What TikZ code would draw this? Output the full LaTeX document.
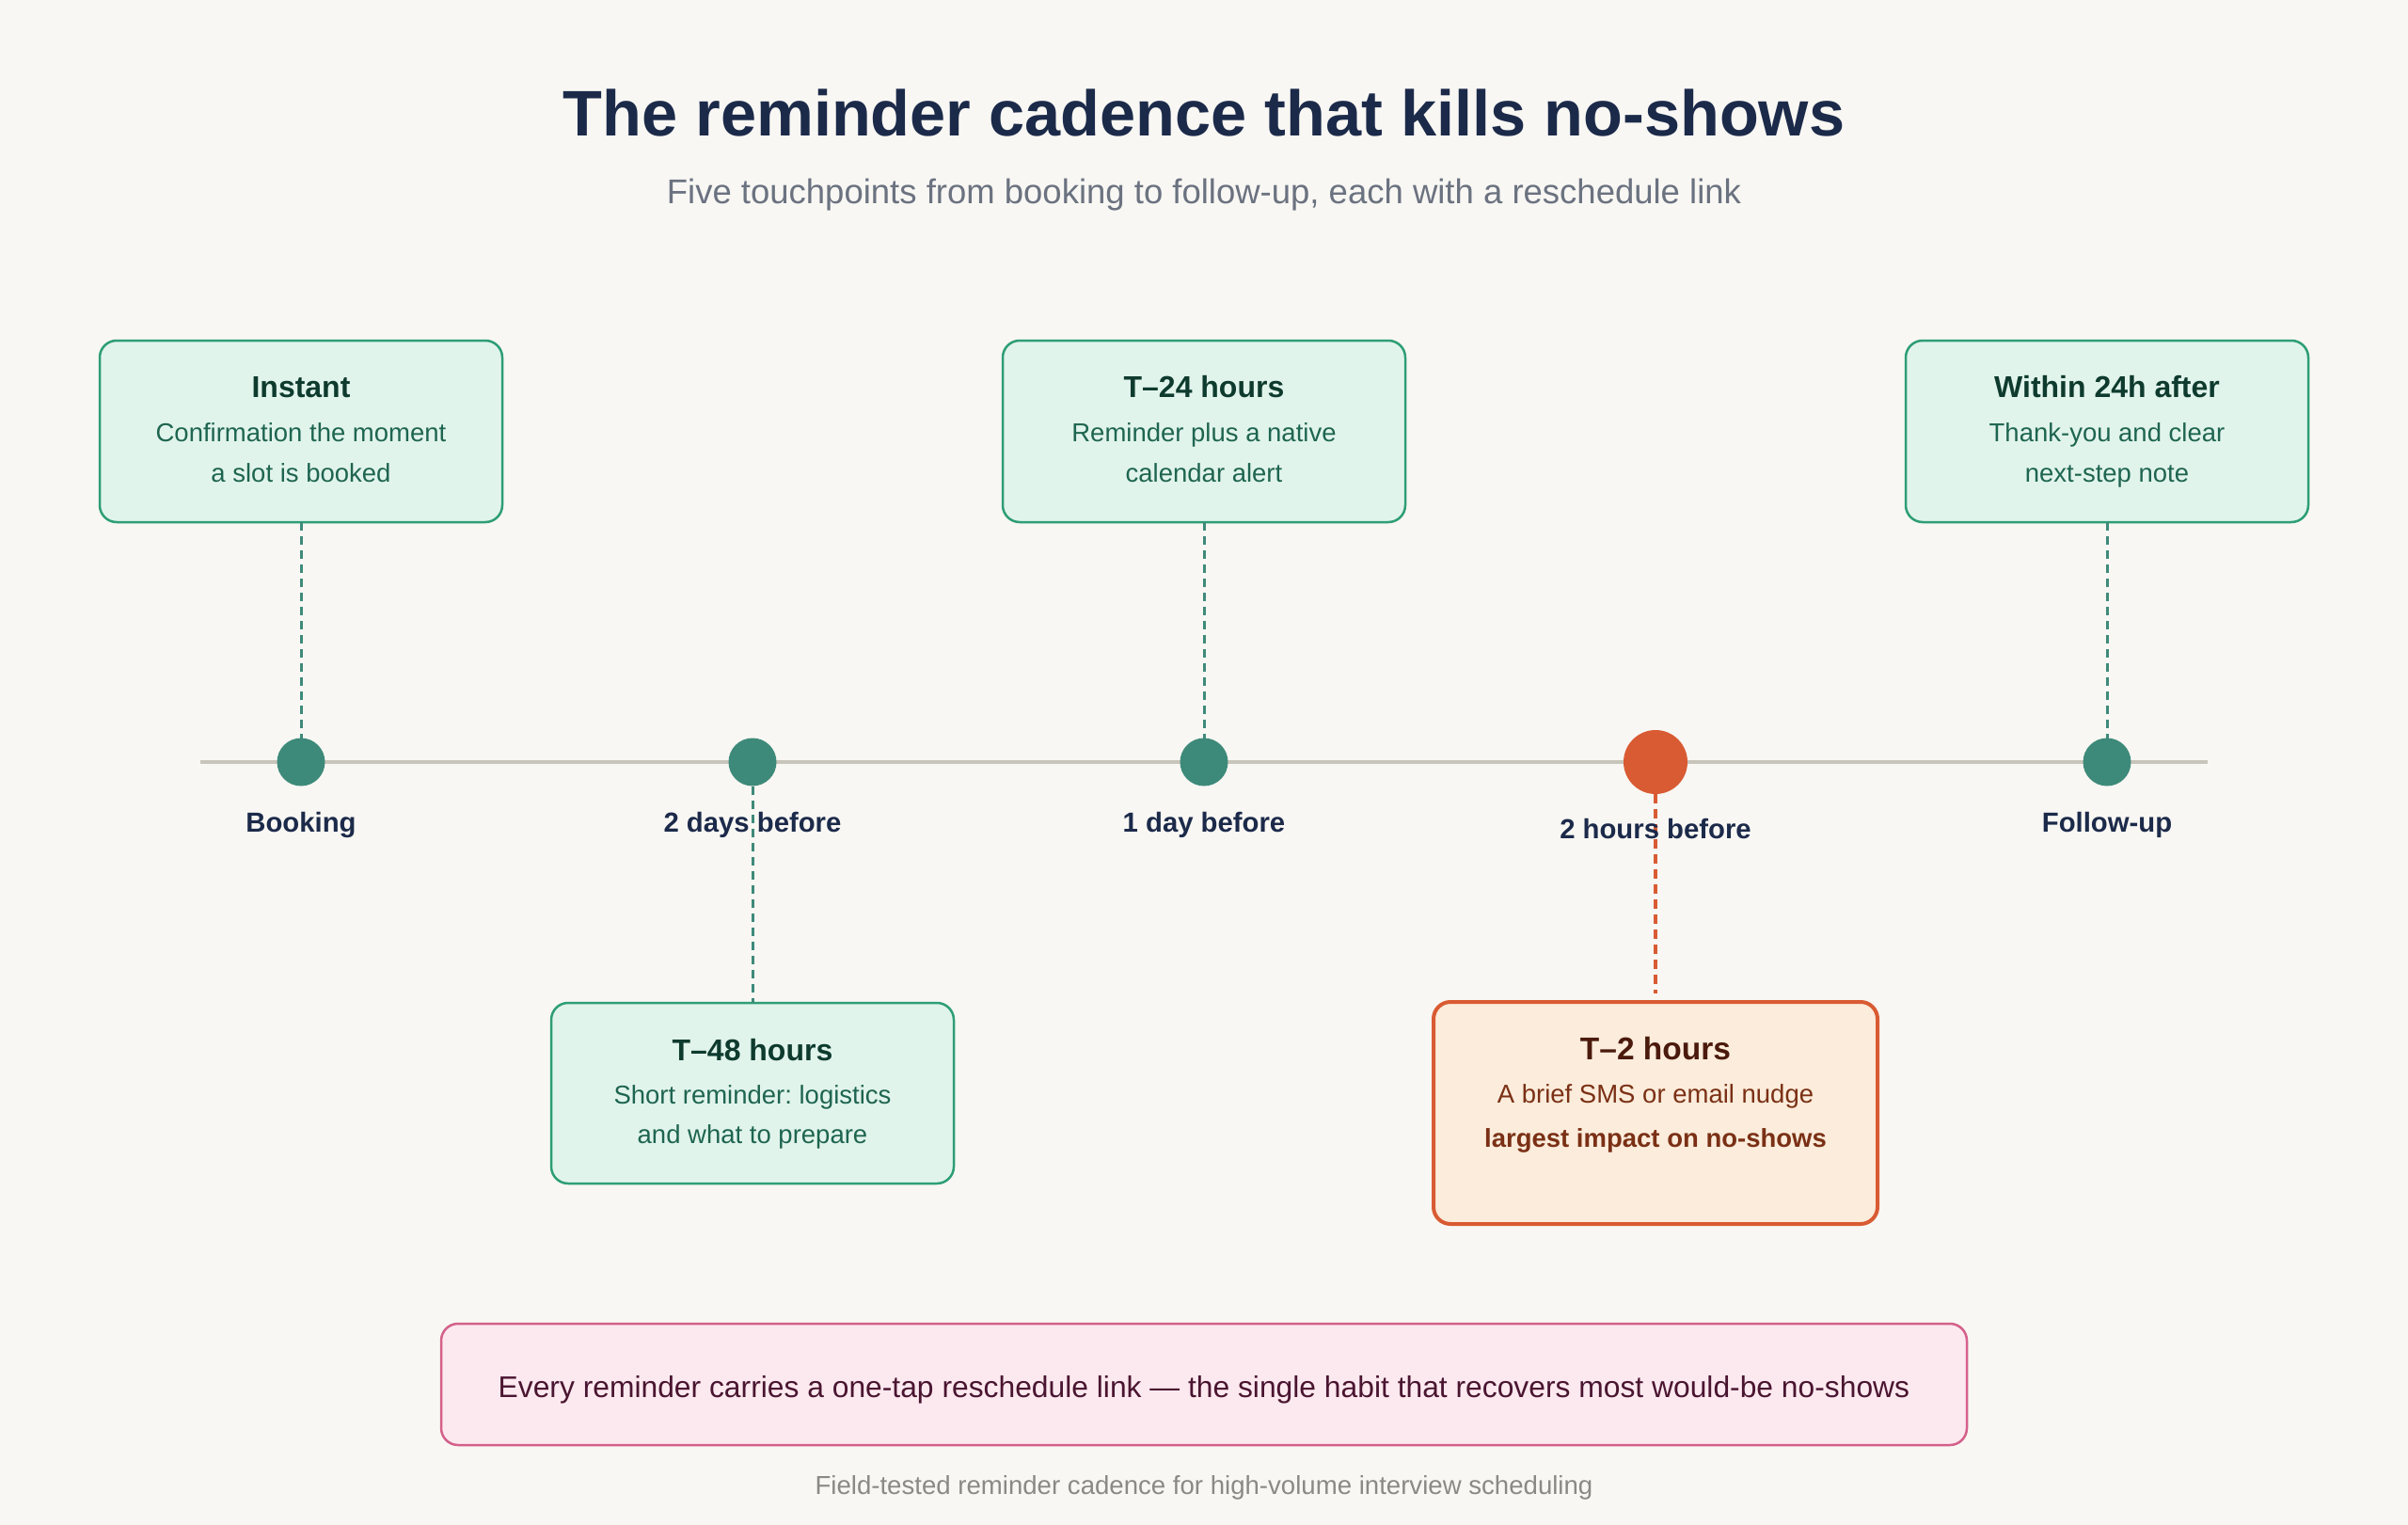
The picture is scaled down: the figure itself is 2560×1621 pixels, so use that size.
\documentclass[tikz,border=0pt]{standalone}
\usepackage{fontspec}
\setmainfont{Liberation Sans}
\frenchspacing
\definecolor{bg}{HTML}{F8F7F3}
\definecolor{tline}{HTML}{C8C6BB}
\definecolor{gdotc}{HTML}{3E8A7A}
\definecolor{gfill}{HTML}{E1F4EC}
\definecolor{gborder}{HTML}{2E9E76}
\definecolor{gtitle}{HTML}{0E3B2E}
\definecolor{gbody}{HTML}{1E6550}
\definecolor{navy}{HTML}{1C2A4A}
\definecolor{orng}{HTML}{D95B33}
\definecolor{ofill}{HTML}{FBECDB}
\definecolor{otitle}{HTML}{4A1A0C}
\definecolor{obody}{HTML}{7A3015}
\definecolor{pfill}{HTML}{FCE9EF}
\definecolor{pborder}{HTML}{D4608A}
\definecolor{ptext}{HTML}{4A1530}
\definecolor{subgrey}{HTML}{6B7280}
\definecolor{footgrey}{HTML}{8A8A85}
\newcommand\fsz[1]{\fontsize{#1}{#1}\selectfont}
\begin{document}
\begin{tikzpicture}[x=1pt,y=-1pt,
  every node/.style={inner sep=0pt,outer sep=0pt},
  txt/.style={anchor=base},
  gbox/.style={draw=gborder,fill=gfill,line width=2.5pt,rounded corners=18pt,minimum width=428pt,minimum height=193pt},
  obox/.style={draw=orng,fill=ofill,line width=4pt,rounded corners=18pt,minimum width=472pt,minimum height=236pt},
  pbox/.style={draw=pborder,fill=pfill,line width=2.5pt,rounded corners=18pt,minimum width=1622pt,minimum height=129pt},
  gdot/.style={circle,fill=gdotc,minimum size=51pt},
  odot/.style={circle,fill=orng,minimum size=68pt},
  gdash/.style={draw=gdotc,line width=3pt,dash pattern=on 9pt off 6pt},
  odash/.style={draw=orng,line width=4pt,dash pattern=on 10pt off 6pt},
  gtitle/.style={txt,text=gtitle,font=\fsz{32}\bfseries},
  gbody/.style={txt,text=gbody,font=\fsz{27.5}},
  otitle/.style={txt,text=otitle,font=\fsz{33.5}\bfseries},
  obody/.style={txt,text=obody,font=\fsz{27.5}},
  obodyb/.style={txt,text=obody,font=\fsz{27.5}\bfseries},
  lbl/.style={txt,text=navy,font=\fsz{29.3}\bfseries}
]
\path[fill=bg] (0,0) rectangle (2560,1621);
\useasboundingbox (0,0) rectangle (2560,1621);

% title
\node[txt,text=navy,font=\fsz{68.5}\bfseries] (title) at (1280,145) {The reminder cadence that kills no-shows};
\node[txt,text=subgrey,font=\fsz{36.5}] (subtitle) at (1280,217) {Five touchpoints from booking to follow-up, each with a reschedule link};

% timeline
\coordinate (tl) at (213,810);
\coordinate (tr) at (2347,810);
\draw[tline,line width=4pt] (tl) -- (tr);

% boxes
\node[gbox] (b1) at (320,458.5) {};
\node[gbox] (b3) at (1280,458.5) {};
\node[gbox] (b5) at (2240,458.5) {};
\node[gbox,minimum height=192pt] (b2) at (800,1162) {};
\node[obox] (b4) at (1760,1183) {};

% dots
\node[gdot] (d1) at (320,810) {};
\node[gdot] (d2) at (800,810) {};
\node[gdot] (d3) at (1280,810) {};
\node[odot] (d4) at (1760,810) {};
\node[gdot] (d5) at (2240,810) {};

% connectors
\draw[gdash] (b1.south) -- (d1.north);
\draw[gdash] (b3.south) -- (d3.north);
\draw[gdash] (b5.south) -- (d5.north);
\draw[gdash] (d2.south) -- (b2.north);
\draw[odash] (d4.south) -- ([yshift=9pt]b4.north);

% labels
\node[lbl] (l1) at (320,884) {Booking};
\node[lbl] (l2) at (800,884) {2 days before};
\node[lbl] (l3) at (1280,884) {1 day before};
\node[lbl] (l4) at (1760,891) {2 hours before};
\node[lbl] (l5) at (2240,884) {Follow-up};

% box texts
\node[gtitle] (t1) at (320,422) {Instant};
\node[gbody] (t1a) at (320,469) {Confirmation the moment};
\node[gbody] (t1b) at (320,512) {a slot is booked};

\node[gtitle] (t3) at (1280,422) {T–24 hours};
\node[gbody] (t3a) at (1280,469) {Reminder plus a native};
\node[gbody] (t3b) at (1280,512) {calendar alert};

\node[gtitle] (t5) at (2240,422) {Within 24h after};
\node[gbody] (t5a) at (2240,469) {Thank-you and clear};
\node[gbody] (t5b) at (2240,512) {next-step note};

\node[gtitle] (t2) at (800,1127) {T–48 hours};
\node[gbody] (t2a) at (800,1173) {Short reminder: logistics};
\node[gbody] (t2b) at (800,1215) {and what to prepare};

\node[otitle] (t4) at (1760,1126) {T–2 hours};
\node[obody] (t4a) at (1760,1172) {A brief SMS or email nudge};
\node[obodyb] (t4b) at (1760,1219) {largest impact on no-shows};

% banner
\node[pbox] (banner) at (1280,1471.5) {};
\node[txt,text=ptext,font=\fsz{31.8}] (bantext) at (1280,1485) {Every reminder carries a one-tap reschedule link — the single habit that recovers most would-be no-shows};

% footer
\node[txt,text=footgrey,font=\fsz{27.6}] (footer) at (1280,1588) {Field-tested reminder cadence for high-volume interview scheduling};
\end{tikzpicture}
\end{document}
